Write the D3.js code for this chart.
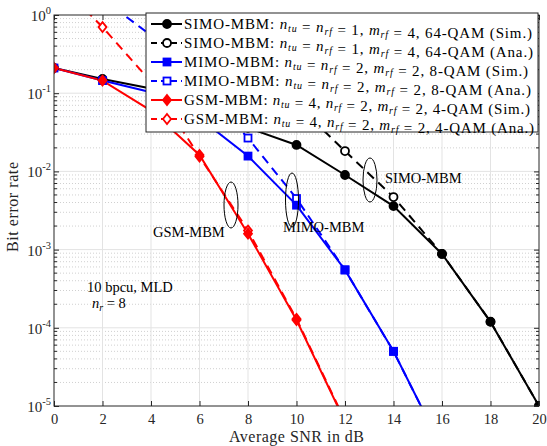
<!DOCTYPE html>
<meta charset="utf-8">
<head>
  <title>BER vs SNR</title>
</head>
<style>
body { margin: 0; background: #fff; }
svg { font-family: "Liberation Serif", "DejaVu Serif", serif; }
.grid-major line { stroke: #e3e3e3; stroke-width: 1; }
.grid-minor line { stroke: #d0d0d0; stroke-width: 1; stroke-dasharray: 1 2; }
</style>
<body>
<svg width="547" height="446"></svg>
<script src="https://cdnjs.cloudflare.com/ajax/libs/d3/7.8.5/d3.min.js"></script>
<script>
var width = 547, height = 446

// SNR values (dB)
let snr = [0, 2, 4, 6, 8, 10, 12, 14, 16, 18, 20]

// BER curves
let simoSim = [0.21, 0.152, 0.115, 0.066, 0.036, 0.0218, 0.009, 0.0036, 0.00088, 0.000119, 0.00001]
let simoAna = [null, null, null, 0.8, 0.25, 0.072, 0.0182, 0.0047, 0.00088, 0.00012, 0.00001]
let mimoSim = [0.21, 0.145, 0.103, 0.048, 0.0157, 0.0037, 0.00055, 0.00005, 0.0000029, null, null]
let mimoAna = [null, 1.6, 0.55, 0.13, 0.0267, 0.0045, 0.00055, 0.00005, 0.0000029, null, null]
let gsmSim = [0.21, 0.145, 0.06, 0.0162, 0.0016, 0.000126, 0.0000063, null, null, null, null]
let gsmAna = [3.0, 0.7, 0.14, 0.0155, 0.00175, 0.00013, 0.0000065, null, null, null, null]

let xTicks = [0, 2, 4, 6, 8, 10, 12, 14, 16, 18, 20]
let yExps = [0, -1, -2, -3, -4, -5]

let series = [
  {name: "SIMO-MBM", nt: "simo", rest: "1, ", mrf: "4", qam: "64-QAM", kind: "Sim.", values: simoSim, color: "#000000", dash: null, marker: "circle", fill: true, len: 348},
  {name: "SIMO-MBM", nt: "simo", rest: "1, ", mrf: "4", qam: "64-QAM", kind: "Ana.", values: simoAna, color: "#000000", dash: "9 6", marker: "circle", fill: false, len: 349},
  {name: "MIMO-MBM", nt: "mimo", rest: "2, ", mrf: "2", qam: "8-QAM", kind: "Sim.", values: mimoSim, color: "#0000ff", dash: null, marker: "square", fill: true, len: 344},
  {name: "MIMO-MBM", nt: "mimo", rest: "2, ", mrf: "2", qam: "8-QAM", kind: "Ana.", values: mimoAna, color: "#0000ff", dash: "9 6", marker: "square", fill: false, len: 347},
  {name: "GSM-MBM", nt: "gsm", rest: "", mrf: "2", qam: "4-QAM", kind: "Sim.", values: gsmSim, color: "#ff0000", dash: null, marker: "diamond", fill: true, len: 346},
  {name: "GSM-MBM", nt: "gsm", rest: "", mrf: "2", qam: "4-QAM", kind: "Ana.", values: gsmAna, color: "#ff0000", dash: "9 6", marker: "diamond", fill: false, len: 350}
]

var mLeft = 54, mRight = 539, mTop = 15, mBottom = 406

var x = d3.scaleLinear().domain([0, 20]).range([mLeft, mRight])
var y = d3.scaleLog().domain([1e-5, 1]).range([mBottom, mTop])

var svg = d3.select("svg")

svg.append("defs").append("clipPath").attr("id", "plotclip")
  .append("rect").attr("x", mLeft).attr("y", mTop)
  .attr("width", mRight - mLeft).attr("height", mBottom - mTop)

// minor grid (dotted)
var minors = []
for (var e = -5; e < 0; e++) {
  for (var m = 2; m <= 9; m++) minors.push(m * Math.pow(10, e))
}
svg.append("g").attr("class", "grid-minor")
  .selectAll("line").data(minors).enter().append("line")
  .attr("x1", mLeft).attr("x2", mRight)
  .attr("y1", function(d) { return y(d) }).attr("y2", function(d) { return y(d) })

// major grid
var gm = svg.append("g").attr("class", "grid-major")
gm.selectAll("line.v").data(xTicks.slice(1, -1)).enter().append("line")
  .attr("class", "v")
  .attr("x1", function(d) { return x(d) }).attr("x2", function(d) { return x(d) })
  .attr("y1", mTop).attr("y2", mBottom)
gm.selectAll("line.h").data(yExps.slice(1, -1)).enter().append("line")
  .attr("class", "h")
  .attr("x1", mLeft).attr("x2", mRight)
  .attr("y1", function(d) { return y(Math.pow(10, d)) }).attr("y2", function(d) { return y(Math.pow(10, d)) })

// axes, MATLAB style box with inward ticks
var axisColor = "#262626"
var xAxis = d3.axisBottom(x).tickValues(xTicks).tickSize(-5).tickFormat(d3.format("d"))
var gx = svg.append("g").attr("transform", "translate(0," + mBottom + ")").call(xAxis)
gx.select(".domain").remove()
gx.selectAll("line").attr("stroke", axisColor)
gx.selectAll("text").attr("font-size", 14.5).attr("fill", "#262626")
  .attr("font-family", "Liberation Serif").attr("dy", null).attr("y", 18)

var gxt = svg.append("g").attr("transform", "translate(0," + mTop + ")")
  .call(d3.axisTop(x).tickValues(xTicks).tickSize(-5).tickFormat(""))
gxt.select(".domain").remove()
gxt.selectAll("line").attr("stroke", axisColor)

var allY = yExps.map(function(d) { return Math.pow(10, d) })
var gy = svg.append("g").attr("transform", "translate(" + mLeft + ",0)")
  .call(d3.axisLeft(y).tickValues(allY).tickSize(-5).tickFormat(""))
gy.select(".domain").remove()
gy.selectAll("line").attr("stroke", axisColor)
var gyr = svg.append("g").attr("transform", "translate(" + mRight + ",0)")
  .call(d3.axisRight(y).tickValues(allY).tickSize(-5).tickFormat(""))
gyr.select(".domain").remove()
gyr.selectAll("line").attr("stroke", axisColor)

// minor y ticks
;[mLeft, mRight].forEach(function(px) {
  var dir = px === mLeft ? 1 : -1
  svg.append("g").selectAll("line").data(minors).enter().append("line")
    .attr("x1", px).attr("x2", px + dir * 3)
    .attr("y1", function(d) { return y(d) }).attr("y2", function(d) { return y(d) })
    .attr("stroke", axisColor)
})

// y tick labels 10^e
var yl = svg.append("g")
yExps.forEach(function(ex) {
  var t = yl.append("text").attr("x", mLeft - 3).attr("y", y(Math.pow(10, ex)) + 6)
    .attr("text-anchor", "end").attr("font-size", 15).attr("fill", "#262626")
  t.append("tspan").text("10")
  t.append("tspan").attr("font-size", 10.5).attr("dy", -7).text(ex === 0 ? "0" : "-" + (-ex))
})

// data lines
var plot = svg.append("g").attr("clip-path", "url(#plotclip)")
var line = d3.line()
  .defined(function(d) { return d[1] != null })
  .x(function(d) { return x(d[0]) })
  .y(function(d) { return y(d[1]) })

function drawMarker(g, s, px, py) {
  var fill = s.fill ? s.color : "#ffffff"
  if (s.marker === "circle") {
    g.append("circle").attr("cx", px).attr("cy", py).attr("r", 4)
      .attr("fill", fill).attr("stroke", s.color).attr("stroke-width", 1.8)
  } else if (s.marker === "square") {
    g.append("rect").attr("x", px - 3.5).attr("y", py - 3.5).attr("width", 7).attr("height", 7)
      .attr("fill", fill).attr("stroke", s.color).attr("stroke-width", 1.8)
  } else {
    g.append("path").attr("d", "M" + px + "," + (py - 5) + "L" + (px + 4) + "," + py + "L" + px + "," + (py + 5) + "L" + (px - 4) + "," + py + "Z")
      .attr("fill", fill).attr("stroke", s.color).attr("stroke-width", 1.8)
  }
}

series.forEach(function(s) {
  var pts = snr.map(function(v, i) { return [v, s.values[i]] })
  plot.append("path").datum(pts)
    .attr("d", line)
    .attr("fill", "none")
    .attr("stroke", s.color)
    .attr("stroke-width", 2)
    .attr("stroke-dasharray", s.dash)
})
// analytical markers first, simulated on top
series.filter(function(s) { return !s.fill }).concat(series.filter(function(s) { return s.fill }))
  .forEach(function(s) {
    snr.forEach(function(v, i) {
      var b = s.values[i]
      if (b != null && b >= 1e-5 && b <= 1) drawMarker(plot, s, x(v), y(b))
    })
  })

// box
svg.append("rect").attr("x", mLeft).attr("y", mTop).attr("width", mRight - mLeft).attr("height", mBottom - mTop)
  .attr("fill", "none").attr("stroke", axisColor).attr("stroke-width", 1)

// annotations
function ellipse(cx, cy, rx, ry) {
  svg.append("ellipse").attr("cx", cx).attr("cy", cy).attr("rx", rx).attr("ry", ry)
    .attr("fill", "none").attr("stroke", "#000").attr("stroke-width", 1)
}
ellipse(231, 205, 7, 23)
ellipse(292, 200, 6.5, 27)
ellipse(370, 180, 7, 22)

function label(tx, ty, str) {
  svg.append("text").attr("x", tx).attr("y", ty).attr("font-size", 14.5).attr("fill", "#000").text(str)
}
label(153, 237, "GSM-MBM")
label(283, 232, "MIMO-MBM")
label(385, 183, "SIMO-MBM")
label(87, 292, "10 bpcu, MLD")
var nr = svg.append("text").attr("x", 92).attr("y", 308).attr("font-size", 14.5)
nr.append("tspan").attr("font-style", "italic").text("n")
nr.append("tspan").attr("font-style", "italic").attr("font-size", 10).attr("dy", 3).text("r")
nr.append("tspan").attr("dy", -3).text(" = 8")

// axis titles
svg.append("text").attr("x", (mLeft + mRight) / 2).attr("y", 442).attr("text-anchor", "middle")
  .attr("font-size", 16).attr("fill", "#262626")
  .attr("textLength", 135).attr("lengthAdjust", "spacing").text("Average SNR in dB")
svg.append("text").attr("transform", "translate(18,207) rotate(-90)")
  .attr("text-anchor", "middle").attr("font-size", 16).attr("fill", "#262626")
  .attr("textLength", 90).attr("lengthAdjust", "spacing").text("Bit error rate")

// legend
var lg = svg.append("g")
lg.append("rect").attr("x", 146).attr("y", 13).attr("width", 392).attr("height", 119)
  .attr("fill", "#fff").attr("stroke", "#262626").attr("stroke-width", 1)

function sub(t, base, s) {
  t.append("tspan").attr("font-style", "italic").text(base)
  t.append("tspan").attr("font-style", "italic").attr("font-size", 10).attr("dy", 3).text(s)
  t.append("tspan").attr("dy", -3).text("")
}

series.forEach(function(s, i) {
  var cy = 24 + i * 19
  lg.append("line").attr("x1", 151).attr("x2", 182).attr("y1", cy).attr("y2", cy)
    .attr("stroke", s.color).attr("stroke-width", 2).attr("stroke-dasharray", s.dash ? "6 4" : null)
  drawMarker(lg, s, 167, cy)
  var t = lg.append("text").attr("x", 184).attr("y", cy + 5).attr("font-size", 15).attr("fill", "#000")
    .attr("textLength", s.len).attr("lengthAdjust", "spacing")
  t.append("tspan").text(s.name + ": ")
  if (s.nt === "gsm") {
    sub(t, "n", "tu")
    t.append("tspan").text(" = 4, ")
    sub(t, "n", "rf")
    t.append("tspan").text(" = 2, ")
  } else {
    sub(t, "n", "tu")
    t.append("tspan").text(" = ")
    sub(t, "n", "rf")
    t.append("tspan").text(" = " + s.rest)
  }
  sub(t, "m", "rf")
  t.append("tspan").text(" = " + s.mrf + ", " + s.qam + " (" + s.kind + ")")
})
</script>
</body>
